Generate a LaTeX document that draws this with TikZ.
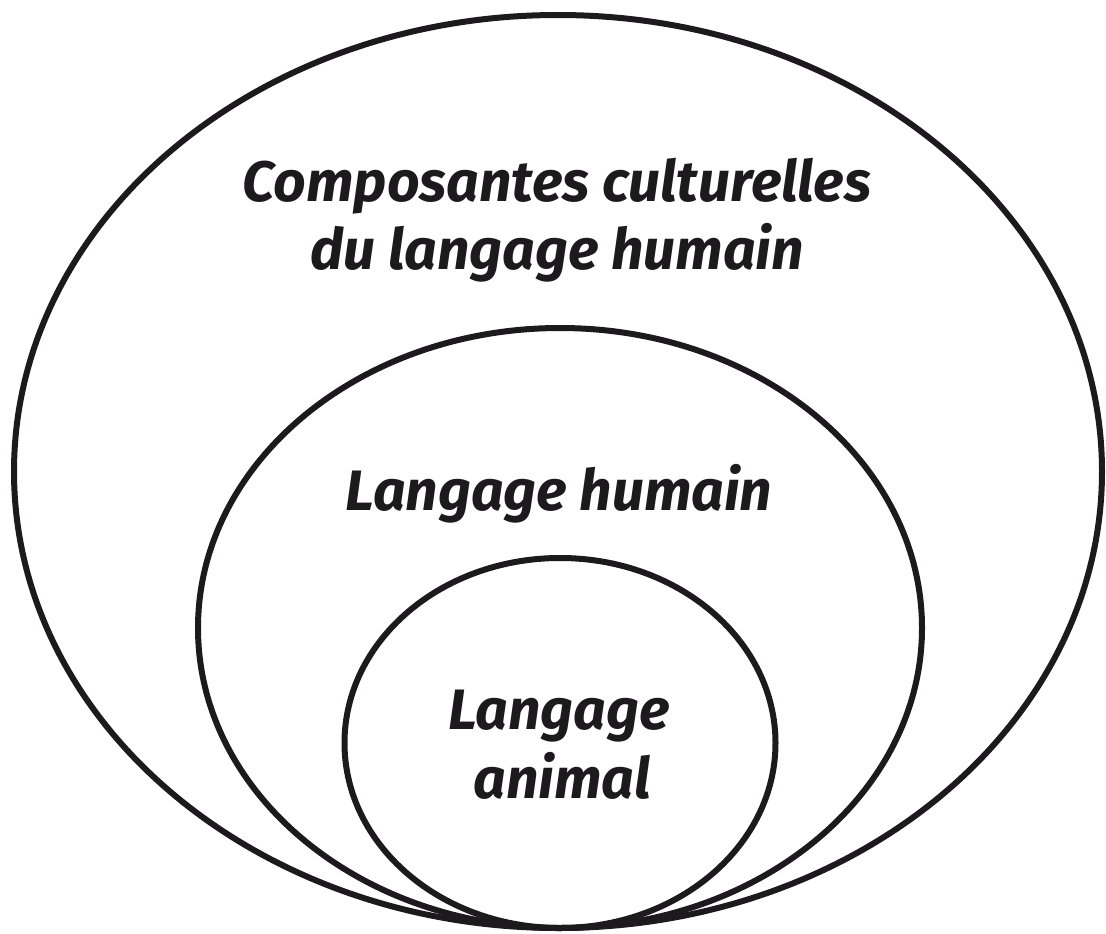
\documentclass[tikz,border=0pt]{standalone}
\usepackage{fontspec}
\setmainfont{Fira Sans}
\begin{document}
\begin{tikzpicture}[x=1pt,y=-1pt,
  ring/.style={draw=ink,line width=6pt},
  lbl/.style={font=\fontsize{57}{68}\selectfont\bfseries\itshape,text=ink,anchor=base,inner sep=0pt}]
\definecolor{ink}{RGB}{28,26,28}
\useasboundingbox (0,0) rectangle (1106,934);
\draw[ring] (558,471.5) ellipse [x radius=544, y radius=456.5];
\draw[ring] (560,628) ellipse [x radius=362, y radius=300];
\draw[ring] (560,743) ellipse [x radius=215.5, y radius=185];
\node[lbl] (c1) at (557,201) {Composantes culturelles};
\node[lbl] (c2) at (557,269) {du langage humain};
\node[lbl] (h) at (559,510) {Langage humain};
\node[lbl] (a1) at (559,729) {Langage};
\node[lbl] (a2) at (562,798) {animal};
\end{tikzpicture}
\end{document}
